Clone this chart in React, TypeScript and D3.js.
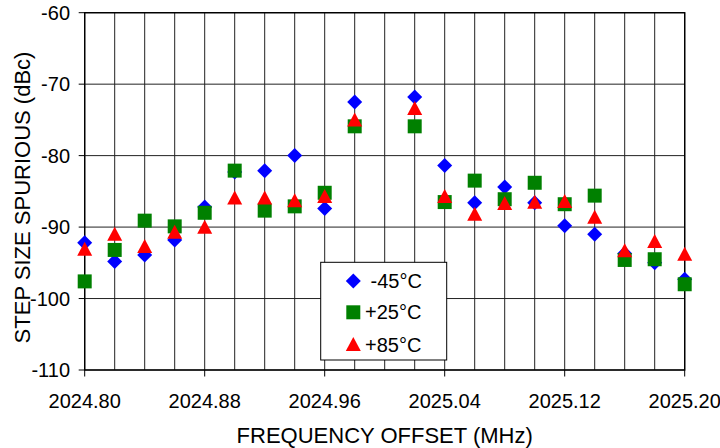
import React from "react";
import * as d3 from "d3";

const freqs = [
  2024.8, 2024.82, 2024.84, 2024.86, 2024.88, 2024.9, 2024.92, 2024.94, 2024.96, 2024.98,
  2025.02, 2025.04, 2025.06, 2025.08, 2025.1, 2025.12, 2025.14, 2025.16, 2025.18, 2025.2,
];
const minus45 = [
  -92.2, -94.8, -93.9, -91.8, -87.2, -82.3, -82.1, -80.0, -87.4, -72.5,
  -71.8, -81.4, -86.6, -84.4, -86.6, -89.8, -91.0, -93.7, -95.0, -97.3,
];
const plus25 = [
  -97.6, -93.2, -89.1, -89.9, -88.0, -82.1, -87.7, -87.1, -85.2, -75.9,
  -75.9, -86.5, -83.5, -86.1, -83.8, -86.8, -85.6, -94.6, -94.5, -98.0,
];
const plus85 = [
  -93.2, -91.1, -92.8, -90.8, -90.1, -86.0, -86.0, -86.4, -85.8, -75.1,
  -73.5, -85.8, -88.3, -86.8, -86.6, -86.5, -88.7, -93.4, -92.1, -93.9,
];
const seriesLabels = [" -45°C", "+25°C", "+85°C"];
const seriesColors = ["#0000ff", "#008000", "#ff0000"];
const seriesShapes = ["diamond", "square", "triangle"];
const xTickLabels = [2024.8, 2024.88, 2024.96, 2025.04, 2025.12, 2025.2];
const yTickLabels = [-60, -70, -80, -90, -100, -110];

const W = 720;
const H = 448;
const M = { left: 84.7, right: 684.7, top: 12.7, bottom: 370 };
const FONT = "'Liberation Sans', Arial, Helvetica, sans-serif";

function shapePath(shape: string, cx: number, cy: number): string {
  if (shape === "diamond") {
    const r = 7.5;
    return `M${cx},${cy - r}L${cx + r},${cy}L${cx},${cy + r}L${cx - r},${cy}Z`;
  }
  if (shape === "square") {
    const s = 7;
    return `M${cx - s},${cy - s}H${cx + s}V${cy + s}H${cx - s}Z`;
  }
  const hw = 7.5;
  const h = 14;
  return `M${cx},${cy - h * 0.58}L${cx + hw},${cy + h * 0.42}L${cx - hw},${cy + h * 0.42}Z`;
}

export default function App() {
  const x = d3.scaleLinear().domain([2024.8, 2025.2]).range([M.left, M.right]);
  const y = d3.scaleLinear().domain([-60, -110]).range([M.top, M.bottom]);
  const series = [minus45, plus25, plus85];
  const gridX = d3.range(0, 21).map((i) => 2024.8 + i * 0.02);
  const gridY = d3.range(-60, -111, -10);

  const legendX0 = 320.7;
  const legendY0 = 262.3;
  const legendRows = [281, 312.3, 345];

  return (
    <div style={{ position: "fixed", left: 0, top: 0 }}>
      <svg width={W} height={H} style={{ display: "block", background: "#fff" }} fontFamily={FONT}>
        <rect x={0} y={0} width={W} height={H} fill="#fff" />
        {/* grid */}
        {gridX.map((g, i) => (
          <line key={"gx" + i} x1={x(g)} x2={x(g)} y1={y(-60)} y2={y(-110)} stroke="#222" strokeWidth={1} />
        ))}
        {gridY.map((g, i) => (
          <line key={"gy" + i} x1={x(2024.8)} x2={x(2025.2)} y1={y(g)} y2={y(g)} stroke="#222" strokeWidth={1} />
        ))}
        {/* border */}
        <rect x={M.left} y={M.top} width={M.right - M.left} height={M.bottom - M.top} fill="none" stroke="#000" strokeWidth={1.4} />
        {/* y ticks */}
        {yTickLabels.map((t) => (
          <g key={"yt" + t}>
            <line x1={M.left - 6} x2={M.left} y1={y(t)} y2={y(t)} stroke="#000" strokeWidth={1} />
            <text x={70} y={y(t) + 7} textAnchor="end" fontSize={20} fill="#000">
              {t}
            </text>
          </g>
        ))}
        {/* x ticks */}
        {xTickLabels.map((t) => (
          <g key={"xt" + t}>
            <line x1={x(t)} x2={x(t)} y1={M.bottom} y2={M.bottom + 6.5} stroke="#000" strokeWidth={1} />
            <text x={x(t)} y={408.3} textAnchor="middle" fontSize={20} fill="#000">
              {d3.format(".2f")(t)}
            </text>
          </g>
        ))}
        {/* axis titles */}
        <text x={(M.left + M.right) / 2} y={443} textAnchor="middle" fontSize={22} fill="#000">
          FREQUENCY OFFSET (MHz)
        </text>
        <text
          transform={`translate(29.5,${197.5}) rotate(-90)`}
          textAnchor="middle"
          fontSize={22}
          fill="#000"
        >
          STEP SIZE SPURIOUS (dBc)
        </text>
        {/* data */}
        {series.map((vals, si) => (
          <g key={"s" + si}>
            {vals.map((v, i) => (
              <path key={i} d={shapePath(seriesShapes[si], x(freqs[i]), y(v))} fill={seriesColors[si]} />
            ))}
          </g>
        ))}
        {/* legend */}
        <rect x={legendX0} y={legendY0} width={126} height={97.7} fill="#fff" stroke="#000" strokeWidth={1} />
        {seriesLabels.map((lab, si) => (
          <g key={"lg" + si}>
            <path d={shapePath(seriesShapes[si], 353.3, legendRows[si])} fill={seriesColors[si]} />
            <text x={365} y={legendRows[si] + 7} fontSize={20} fill="#000" style={{ whiteSpace: "pre" }}>
              {lab}
            </text>
          </g>
        ))}
      </svg>
    </div>
  );
}
